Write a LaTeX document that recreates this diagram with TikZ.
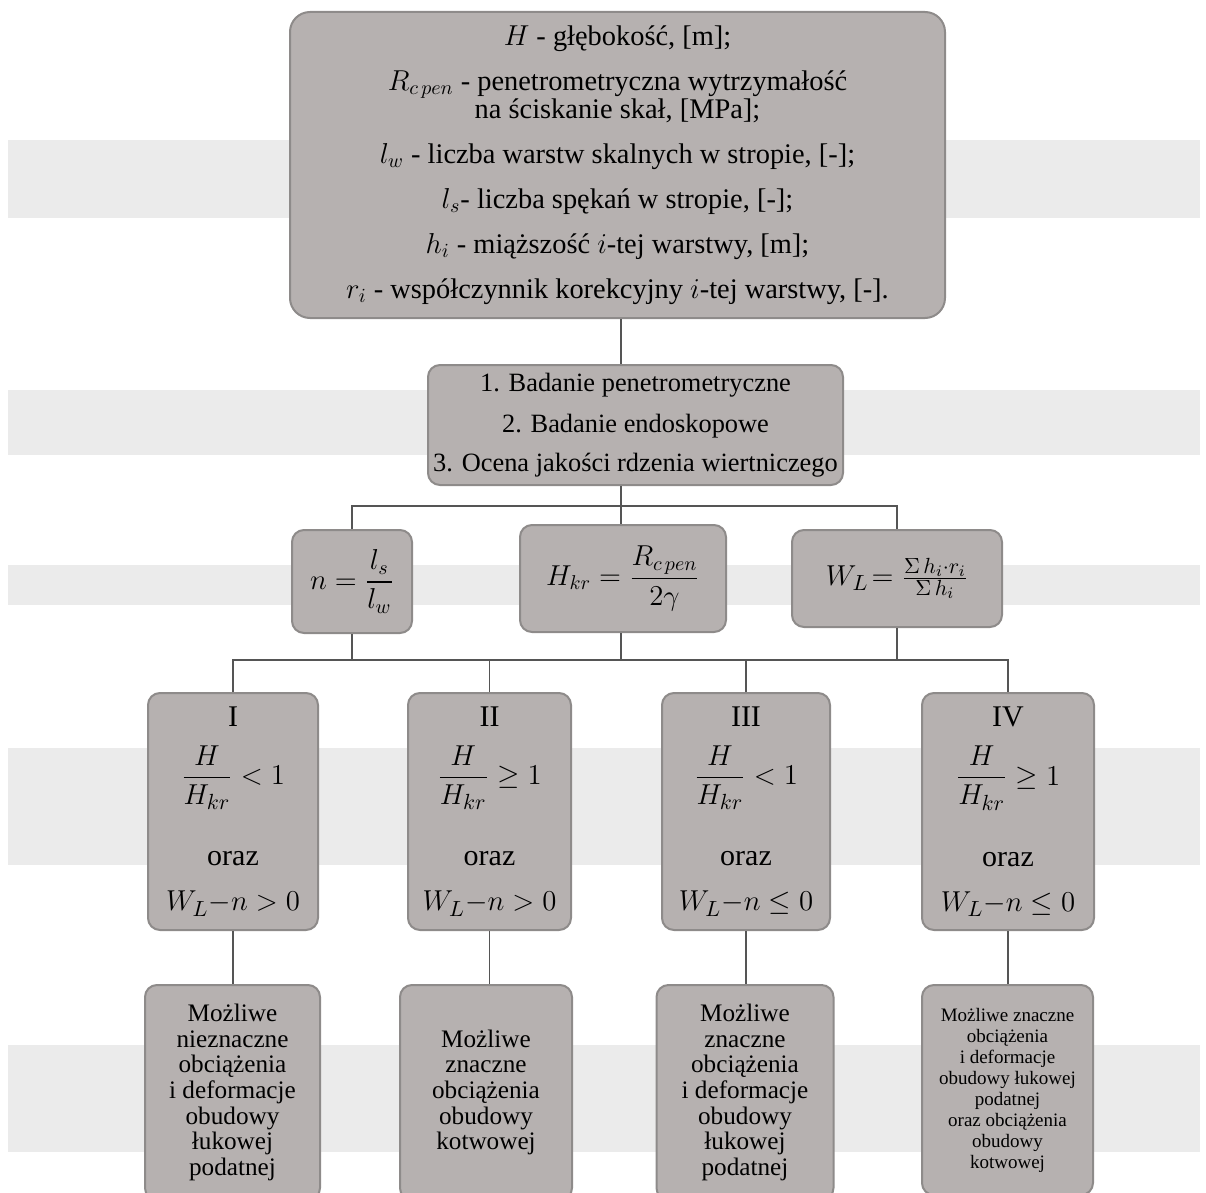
\documentclass[tikz,border=0pt]{standalone}
\usepackage{amsmath, amssymb}
\usepackage{fontspec}
\setmainfont{Liberation Serif}

\definecolor{boxgray}{HTML}{B6B1B0}
\definecolor{edgegray}{HTML}{8E8B8A}
\definecolor{bandgray}{HTML}{EBEBEB}
\definecolor{linegray}{HTML}{555555}

\begin{document}
\begin{tikzpicture}[x=0.5pt, y=-0.5pt,
    box/.style={draw=edgegray, line width=1pt, fill=boxgray, rounded corners=6pt, align=center, inner sep=0pt},
    link/.style={draw=linegray, line width=0.8pt}]
    \useasboundingbox (0,0) rectangle (1206,1193);
    % background bands
    \foreach \ya/\yb in {140/218, 390/455, 565/605, 748/865, 1045/1152}
        \fill[bandgray] (8,\ya) rectangle (1200,\yb);

    \node[box, minimum width=327.5pt, minimum height=153pt, rounded corners=10pt, font=\fontsize{14.2}{14}\selectfont] (data) at (617.5,165) {%
        $H$ - głębokość, [m];\\[8.5pt]
        $R_{c\,pen}$ - penetrometryczna wytrzymałość\\ na ściskanie skał, [MPa];\\[8.5pt]
        $l_w$ - liczba warstw skalnych w stropie, [-];\\[8.5pt]
        $l_s$- liczba spękań w stropie, [-];\\[8.5pt]
        $h_i$ - miąższość $i$-tej warstwy, [m];\\[8.5pt]
        $r_i$ - współczynnik korekcyjny $i$-tej warstwy, [-].};
    \node[box, minimum width=207.5pt, minimum height=60pt, font=\fontsize{13.2}{12}\selectfont] (tests) at (635.5,425) {%
        1. Badanie penetrometryczne\\[7.5pt]
        2. Badanie endoskopowe\\[7.5pt]
        3. Ocena jakości rdzenia wiertniczego};

    \node[box, minimum width=60pt, minimum height=51.5pt, font=\fontsize{14.5}{16}\selectfont] (ratio) at (352,581.5) {$n=\dfrac{l_s}{l_w}$};
    \node[box, minimum width=103pt, minimum height=53.5pt, font=\fontsize{14.5}{16}\selectfont] (hkr) at (623,578.5) {$H_{kr}=\dfrac{R_{c\,pen}}{2\gamma}$};
    \node[box, minimum width=105pt, minimum height=48.5pt, font=\fontsize{15.5}{16}\selectfont] (wl) at (897,578.5) {$W_L\!= \frac{\Sigma\, h_i\cdot r_i}{\Sigma\, h_i}$};

    % cases
    \node[box, minimum width=85pt, minimum height=118.5pt, font=\fontsize{15}{16}\selectfont] (caseA) at (233,811.5) {I\\[8.5pt] $\dfrac{H}{H_{kr}}<1$\\[20pt] oraz\\[6.5pt] $W_L{-}n>0$};
    \node[box, minimum width=81.5pt, minimum height=118.5pt, font=\fontsize{15}{16}\selectfont] (caseB) at (489.5,811.5) {II\\[8.5pt] $\dfrac{H}{H_{kr}}\geq 1$\\[20pt] oraz\\[6.5pt] $W_L{-}n>0$};
    \node[box, minimum width=84pt, minimum height=118.5pt, font=\fontsize{15}{16}\selectfont] (caseC) at (746,811.5) {III\\[8.5pt] $\dfrac{H}{H_{kr}}<1$\\[20pt] oraz\\[6.5pt] $W_L{-}n\leq 0$};
    \node[box, minimum width=86pt, minimum height=118.5pt, font=\fontsize{15}{16}\selectfont] (caseD) at (1008,811.5) {IV\\[8.5pt] $\dfrac{H}{H_{kr}}\geq 1$\\[20pt] oraz\\[6.5pt] $W_L{-}n\leq 0$};

    % results
    \node[box, minimum width=87.5pt, minimum height=107.5pt, font=\fontsize{12.6}{12.8}\selectfont] (resA) at (232.5,1092.5) {Możliwe\\ nieznaczne\\ obciążenia\\ i deformacje\\ obudowy\\ łukowej\\ podatnej};
    \node[box, minimum width=86pt, minimum height=107.5pt, font=\fontsize{12.6}{12.8}\selectfont] (resB) at (486,1092.5) {Możliwe\\ znaczne\\ obciążenia\\ obudowy\\ kotwowej};
    \node[box, minimum width=88.5pt, minimum height=107.5pt, font=\fontsize{12.6}{12.8}\selectfont] (resC) at (745,1092.5) {Możliwe\\ znaczne\\ obciążenia\\ i deformacje\\ obudowy\\ łukowej\\ podatnej};
    \node[box, minimum width=85.5pt, minimum height=105pt, font=\fontsize{9.5}{10.5}\selectfont] (resD) at (1007.5,1090) {Możliwe znaczne\\ obciążenia\\ i deformacje\\ obudowy łukowej\\ podatnej\\ oraz obciążenia\\ obudowy\\ kotwowej};

    % connectors
    \coordinate (forkA) at (621,506);
    \coordinate (forkB) at (621,660);
    \draw[link] (data.south -| forkA) -- (tests.north -| forkA);
    \draw[link] (tests.south -| forkA) -- (forkA);
    \draw[link] (ratio.north) |- (forkA) -| (wl.north);
    \draw[link] (forkA) -- (hkr.north -| forkA);
    \draw[link] (ratio.south) -- (ratio.south |- forkB);
    \draw[link] (hkr.south -| forkB) -- (forkB);
    \draw[link] (wl.south) -- (wl.south |- forkB);
    \draw[link] (caseA.north) |- (forkB) -| (caseD.north);
    \draw[link] (caseB.north) -- (caseB.north |- forkB);
    \draw[link] (caseC.north) -- (caseC.north |- forkB);
    \foreach \k in {A,B,C,D}
        \draw[link] (case\k.south) -- (case\k.south |- res\k.north);
\end{tikzpicture}
\end{document}
